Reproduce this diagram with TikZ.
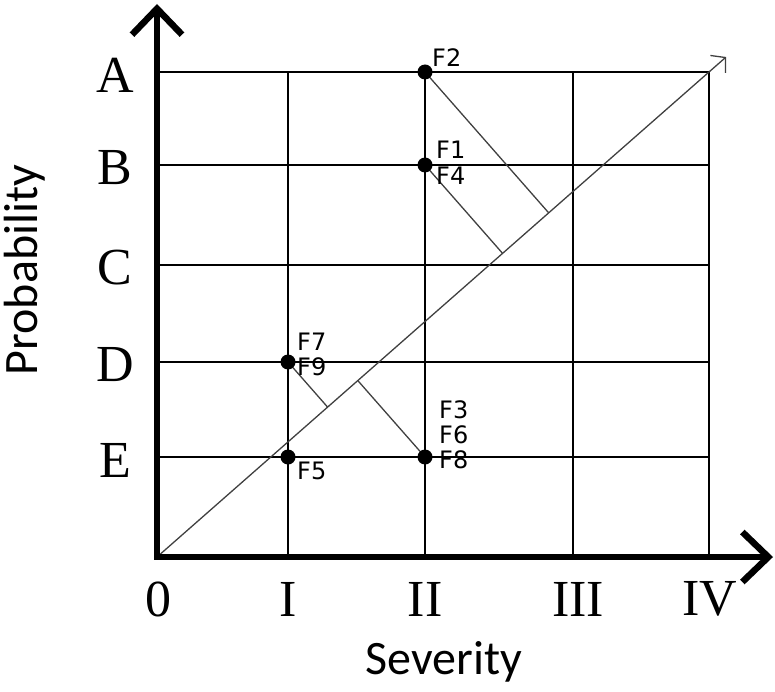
\documentclass[tikz,border=0pt]{standalone}
\usepackage{fontspec}
\setmainfont{Liberation Serif}
\newfontfamily\pointfont{DejaVu Sans}
\newfontfamily\titlefont{Carlito}
\usepackage{tikz}
\usetikzlibrary{arrows.meta}
\usetikzlibrary{calc}

\begin{document}
\begin{tikzpicture}[x=1pt,y=-1pt,
    axisline/.style={line width=6.5pt,{Straight Barb[length=26pt,width=50pt]}-{Straight Barb[length=26pt,width=50pt]}},
    gridline/.style={line width=1.1pt},
    diagline/.style={line width=1.3pt,draw=black!75,-{Straight Barb[length=10pt,width=23pt]}},
    perpline/.style={line width=1.3pt,draw=black!75},
    scalelab/.style={font=\fontsize{52}{60}\selectfont,inner sep=0pt},
    pointlab/.style={font=\pointfont\fontsize{24}{25}\selectfont,inner sep=0pt,anchor=west,align=left},
    titlelab/.style={font=\titlefont\fontsize{48}{56}\selectfont,inner sep=0pt}]

    \useasboundingbox (0,0) rectangle (775,692);

    % origin and far corner of the matrix
    \coordinate (O) at (157,557);
    \coordinate (T) at (709,72);

    % grid
    \foreach \y in {72,165,265,362,457}
        \draw[gridline] (157,\y) -- (709,\y);
    \foreach \x in {288,425,573,709}
        \draw[gridline] (\x,72) -- (\x,557);

    % diagonal
    \draw[diagline] (O) -- ($(O)!1.031!(T)$);

    % failure modes
    \coordinate (F2) at (425,72);
    \coordinate (F1) at (425,165);
    \coordinate (F7) at (288,362);
    \coordinate (F5) at (288,457);
    \coordinate (F3) at (425,457);

    % distances to the diagonal
    \draw[perpline] (F2) -- ($(O)!(F2)!(T)$);
    \draw[perpline] (F1) -- ($(O)!(F1)!(T)$);
    \draw[perpline] (F7) -- ($(O)!(F7)!(T)$);
    \draw[perpline] (F3) -- ($(O)!(F3)!(T)$);

    \fill (F2) circle (7.5);
    \fill (F1) circle (7.5);
    \fill (F7) circle (7.5);
    \fill (F5) circle (7.5);
    \fill (F3) circle (7.5);

    \node[pointlab] (labF2)   at (432,58)  {F2};
    \node[pointlab] (labF14)  at (436,163) {F1\\[1pt]F4};
    \node[pointlab] (labF79)  at (297,354) {F7\\F9};
    \node[pointlab] (labF5)   at (297,471) {F5};
    \node[pointlab] (labF368) at (439,435) {F3\\F6\\F8};

    % axes
    \draw[axisline] (157,4) -- (O) -- (773,557);

    % scale labels
    \foreach \r/\y in {A/72,B/165,C/265,D/362,E/457}
        \node[scalelab] (row\r) at (115,\y+3) {\r};
    \foreach \c/\x in {0/158,I/288,II/425,III/578,IV/710}
        \node[scalelab] (col\c) at (\x,599) {\c};

    \node[titlelab,rotate=90] (prob) at (25,270) {Probability};
    \node[titlelab] (sev) at (444,662) {Severity};

\end{tikzpicture}
\end{document}
